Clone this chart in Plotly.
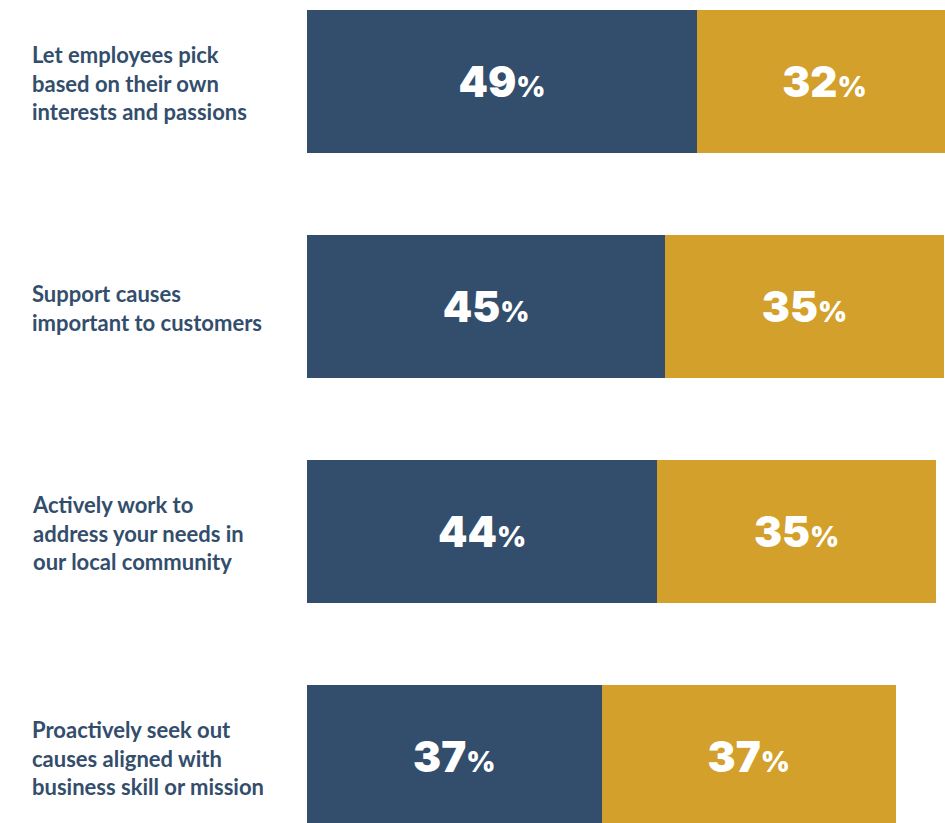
import plotly.graph_objects as go

# Survey statements and the two response shares (percent)
categories = [
    "Let employees pick<br>based on their own<br>interests and passions",
    "Support causes<br>important to customers",
    "Actively work to<br>address your needs in<br>our local community",
    "Proactively seek out<br>causes aligned with<br>business skill or mission",
]
series_a = [49, 45, 44, 37]
series_b = [32, 35, 35, 37]

NAVY = "#334e6c"
GOLD = "#d2a02b"

W, H = 945, 823
LEFT = 307
PX_PER_UNIT = 7.96
x_max = (W - LEFT) / PX_PER_UNIT


def pct_labels(vals):
    return [f"{v}<span style='font-size:28px'>%</span>" for v in vals]


bar_font = dict(family="Inter", size=42, color="white", weight=900)

fig = go.Figure()
for vals, color in [(series_a, NAVY), (series_b, GOLD)]:
    fig.add_trace(go.Bar(
        y=categories,
        x=vals,
        orientation="h",
        marker=dict(color=color, line=dict(width=0)),
        text=pct_labels(vals),
        textposition="inside",
        insidetextanchor="middle",
        textangle=0,
        constraintext="none",
        textfont=bar_font,
        hoverinfo="skip",
    ))

# Left-hand statement labels
for cat in categories:
    fig.add_annotation(
        x=(30 - LEFT) / (W - LEFT), xref="paper",
        y=cat, yref="y",
        yshift=-2,
        text=cat,
        showarrow=False,
        xanchor="left", yanchor="middle", align="left",
        font=dict(family="Lato", size=22, color=NAVY, weight=700),
    )

fig.update_layout(
    width=W, height=H,
    margin=dict(l=LEFT, r=0, t=0, b=0),
    barmode="stack",
    bargap=0.364,
    plot_bgcolor="white",
    paper_bgcolor="white",
    showlegend=False,
    xaxis=dict(range=[0, x_max], visible=False, fixedrange=True),
    yaxis=dict(
        type="category",
        categoryorder="array", categoryarray=categories,
        range=[3.2956, -0.3622],
        visible=False, fixedrange=True,
    ),
)

fig.write_html("out.html", config={"displayModeBar": False})
